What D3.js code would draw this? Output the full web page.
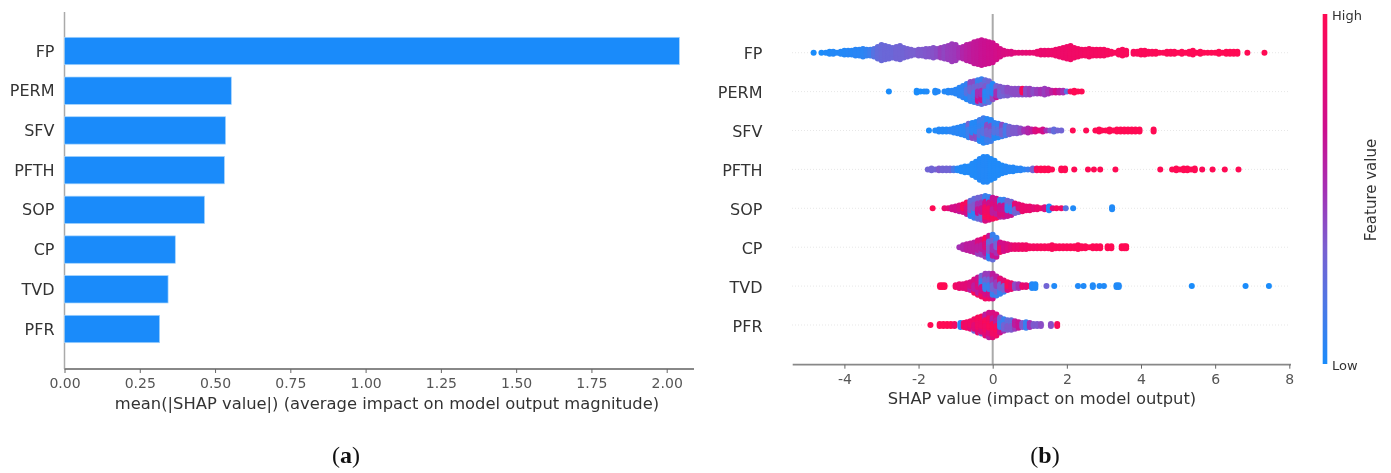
<!DOCTYPE html>
<html>
<head>
<meta charset="utf-8">
<script src="https://cdn.jsdelivr.net/npm/d3@7"></script>
<style>
  html, body { margin: 0; padding: 0; background: #fff; }
  svg { display: block; filter: blur(0.45px); }
  text { font-family: "DejaVu Sans", sans-serif; }
</style>
</head>
<body>
<div id="chart"></div>
<script>
const features = ['FP', 'PERM', 'SFV', 'PFTH', 'SOP', 'CP', 'TVD', 'PFR'];
const meanShap = [2.042, 0.554, 0.535, 0.531, 0.465, 0.368, 0.344, 0.316];
const barTicks = [0, 0.25, 0.5, 0.75, 1, 1.25, 1.5, 1.75, 2];
const swarmTicks = [-4, -2, 0, 2, 4, 6, 8];

// feature-value mixes seen in the crowded parts of the swarms
const mixBlue = [.03, .08, .3, .05, .2, .12, .4];
const mixBluePurple = [.3, .05, .25, .5, .1, .35, .65];
const mixPurpleRed = [.4, .45, .95, .35, .5, .4, .3, .6];
const mixRed = [.75, .3, .9, .6, .1, .95, .45, .7];
const mixHot = [.8, .65, .95, .3, .75, .9, .1, .6];

// swarm columns: [shap value, dots in column, feature value(s)]
const fpBins = [[-4.83,1,0],[-4.62,1,0],[-4.5,1,.02],[-4.4,2,.02],[-4.3,2,.03],[-4.2,1,.03],[-4.1,2,.03],[-4,3,.03],[-3.9,3,.04],[-3.8,3,.04],[-3.7,4,.05],[-3.6,4,.05],[-3.5,5,.06],[-3.4,4,.08],[-3.3,4,.12],[-3.2,5,.2],[-3.1,7,.25],[-3,9,.27],[-2.9,8,.28],[-2.8,7,.28],[-2.7,6,.28],[-2.6,7,.3],[-2.5,8,.3],[-2.4,6,.3],[-2.3,5,.32],[-2.2,4,.33],[-2.1,3,.33],[-2,4,.35],[-1.9,4,.35],[-1.8,5,.36],[-1.7,5,.37],[-1.6,6,.38],[-1.5,5,.4],[-1.4,6,.45],[-1.3,7,.42],[-1.2,8,.45],[-1.1,10,.46],[-1,9,.47],[-.9,6,.5],[-.8,7,.55],[-.7,9,.58],[-.6,10,.6],[-.5,12,.62],[-.4,13,.63],[-.3,14,.65],[-.2,13,.66],[-.1,12,.67],[0,11,.68],[.1,8,.7],[.2,5,.72],[.3,3,.74],[.4,2,.75],[.5,2,.76],[.6,1,.78],[.7,1,.79],[.8,1,.8],[.9,1,.81],[1,1,.82],[1.1,1,.83],[1.2,2,.84],[1.3,3,.85],[1.4,3,.85],[1.5,3,.86],[1.6,3,.86],[1.7,4,.87],[1.8,5,.87],[1.9,6,.88],[2,7,.88],[2.1,8,.89],[2.2,6,.89],[2.3,5,.9],[2.4,4,.9],[2.5,4,.91],[2.6,5,.91],[2.7,4,.92],[2.8,4,.92],[2.9,4,.93],[3,4,.93],[3.1,3,.94],[3.2,2,.94],[3.3,1,.95],[3.4,3,.95],[3.5,4,.95],[3.6,3,.96],[3.8,2,.96],[3.9,2,.96],[4,3,.97],[4.1,3,.97],[4.2,2,.97],[4.3,2,.97],[4.4,2,.98],[4.5,1,.98],[4.6,1,.98],[4.7,2,.98],[4.8,2,.98],[4.9,2,.98],[5,1,.99],[5.1,2,.99],[5.2,1,.99],[5.3,2,.99],[5.4,3,.99],[5.5,1,.99],[5.6,2,.99],[5.7,1,1],[5.8,1,1],[5.9,1,1],[6,1,1],[6.1,2,1],[6.2,1,1],[6.3,2,1],[6.4,2,1],[6.5,2,1],[6.6,2,1],[6.87,1,1],[7.33,1,1]];
const permBins = [[-2.8,1,0],[-2.05,2,0],[-1.95,1,0],[-1.85,1,0],[-1.78,1,.02],[-1.55,2,.02],[-1.48,1,.03],[-1.3,1,.03],[-1.2,2,.03],[-1.1,2,.05],[-1,3,.05],[-.9,5,.05],[-.8,7,.07],[-.7,9,mixBlue],[-.6,11,mixBlue],[-.5,12,mixBlue],[-.4,13,mixBluePurple],[-.3,14,mixBluePurple],[-.2,13,mixBluePurple],[-.1,12,mixBlue],[0,9,mixBlue],[.1,7,mixBluePurple],[.2,6,mixPurpleRed],[.3,5,mixPurpleRed],[.4,5,mixPurpleRed],[.5,4,mixPurpleRed],[.6,4,mixPurpleRed],[.7,4,mixPurpleRed],[.8,4,mixPurpleRed],[.9,4,.4],[1,4,.45],[1.1,3,.4],[1.2,3,.45],[1.3,3,.5],[1.4,4,.45],[1.5,3,.5],[1.6,2,.6],[1.7,2,.7],[1.8,2,.6],[1.9,2,.5],[2,1,.2],[2.1,1,.95],[2.2,2,1],[2.3,1,1],[2.4,1,1]];
const sfvBins = [[-1.72,1,0],[-1.55,1,.02],[-1.45,2,.03],[-1.35,2,.03],[-1.25,2,.03],[-1.15,2,.05],[-1.05,3,.05],[-.95,4,.05],[-.85,5,.05],[-.75,6,.05],[-.65,8,mixBlue],[-.55,9,mixBlue],[-.45,10,mixBlue],[-.35,12,mixBlue],[-.25,14,mixBlue],[-.15,13,mixBlue],[-.05,12,mixBlue],[.05,9,mixBlue],[.15,8,mixBlue],[.25,7,mixBlue],[.35,6,.15],[.45,5,.3],[.55,4,.35],[.65,4,.35],[.75,3,.4],[.85,2,.5],[.95,3,.55],[1.05,2,.6],[1.15,2,.75],[1.25,1,.8],[1.35,2,.7],[1.45,1,.5],[1.55,1,.35],[1.65,2,.25],[1.75,1,.3],[1.85,1,.3],[2.16,1,1],[2.52,1,1],[2.77,1,1],[2.87,2,1],[2.95,1,1],[3.05,1,1],[3.15,2,1],[3.25,1,1],[3.35,2,1],[3.45,2,1],[3.55,2,1],[3.65,2,1],[3.75,2,1],[3.85,2,1],[3.96,2,1],[4.34,2,1]];
const pfthBins = [[-1.75,1,.3],[-1.65,2,.3],[-1.55,1,.3],[-1.45,2,.35],[-1.35,2,.3],[-1.25,2,.3],[-1.15,2,.3],[-1.05,2,.15],[-.95,2,.03],[-.85,3,.02],[-.75,4,.02],[-.65,4,.02],[-.55,7,.02],[-.45,9,.02],[-.35,12,.03],[-.25,14,.03],[-.15,14,.03],[-.05,12,.02],[.05,10,.02],[.15,7,.02],[.25,5,.02],[.35,4,.03],[.45,3,.03],[.55,3,.03],[.65,2,.03],[.75,2,.05],[.85,1,.05],[.95,1,.1],[1.08,2,.3],[1.19,2,.95],[1.3,2,1],[1.4,2,1],[1.5,2,1],[1.6,1,1],[1.85,2,1],[1.95,2,1],[2.2,1,1],[2.57,1,1],[2.73,1,1],[2.9,1,1],[3.31,1,1],[4.52,1,1],[4.84,1,1],[4.95,2,1],[5.05,1,1],[5.15,2,1],[5.25,2,1],[5.35,1,1],[5.45,2,1],[5.65,1,.98],[5.93,1,1],[6.26,1,1],[6.63,1,1]];
const sopBins = [[-1.62,1,1],[-1.3,1,.85],[-1.2,1,.8],[-1.1,2,.7],[-1,3,.7],[-.9,4,mixRed],[-.8,5,mixRed],[-.7,7,mixRed],[-.6,9,mixBluePurple],[-.5,11,mixBluePurple],[-.4,12,mixBluePurple],[-.3,13,mixBluePurple],[-.2,14,mixRed],[-.1,13,mixRed],[0,12,mixHot],[.1,11,mixHot],[.2,10,mixHot],[.3,10,mixHot],[.4,9,mixHot],[.5,8,mixHot],[.6,6,mixHot],[.7,5,mixHot],[.8,4,.85],[.9,3,.85],[1,3,.85],[1.1,2,.8],[1.2,2,.85],[1.3,1,.85],[1.4,2,.75],[1.52,3,.02],[1.62,1,.8],[1.72,1,.95],[1.85,1,.9],[1.97,1,.2],[2.17,1,.02],[3.22,2,.02]];
const cpBins = [[-.9,1,.5],[-.8,3,.55],[-.7,4,.6],[-.6,5,.6],[-.5,6,.6],[-.4,8,mixRed],[-.3,9,mixRed],[-.2,11,mixRed],[-.1,13,mixBluePurple],[0,14,mixBluePurple],[.1,11,mixBluePurple],[.2,6,mixRed],[.3,5,.7],[.4,4,.75],[.5,3,.8],[.6,3,.85],[.7,3,.85],[.8,3,.9],[.9,3,.9],[1,2,.92],[1.1,2,.92],[1.2,2,.93],[1.3,2,.95],[1.4,2,.95],[1.5,2,.96],[1.6,3,.96],[1.7,2,.97],[1.8,2,.97],[1.9,2,.97],[2,2,.98],[2.1,2,.98],[2.2,2,.98],[2.3,3,.98],[2.4,2,.98],[2.5,2,.98],[2.6,1,.99],[2.7,2,.99],[2.8,2,.99],[2.9,2,.99],[3.1,2,1],[3.2,2,1],[3.48,2,1],[3.55,2,1],[3.6,2,1]];
const tvdBins = [[-1.42,2,1],[-1.36,2,1],[-1.3,2,1],[-1,2,.9],[-.9,3,.85],[-.8,3,.8],[-.7,4,.8],[-.6,5,mixHot],[-.5,8,mixHot],[-.4,10,mixHot],[-.3,12,mixRed],[-.2,14,mixRed],[-.1,14,mixRed],[0,14,mixRed],[.1,11,mixRed],[.2,9,mixHot],[.3,7,mixHot],[.4,5,mixRed],[.5,4,.85],[.6,3,.4],[.7,3,.5],[.8,2,.85],[.9,2,.8],[1,1,.9],[1.06,3,.03],[1.15,3,.02],[1.45,1,.3],[1.66,1,.02],[2.3,1,.02],[2.45,1,.02],[2.7,2,.02],[2.88,1,.02],[3,1,.02],[3.34,2,.02],[3.4,2,.02],[5.37,1,0],[6.82,1,0],[7.45,1,0]];
const pfrBins = [[-1.68,1,1],[-1.43,2,1],[-1.33,2,1],[-1.23,2,1],[-1.13,2,1],[-1.03,2,.9],[-.87,3,.05],[-.78,3,.9],[-.7,4,.9],[-.6,5,mixHot],[-.5,7,mixHot],[-.4,9,mixHot],[-.3,10,mixHot],[-.2,12,mixHot],[-.1,14,mixRed],[0,14,mixHot],[.1,12,mixHot],[.2,9,mixRed],[.3,7,mixBluePurple],[.4,6,mixBluePurple],[.5,6,mixBluePurple],[.6,5,mixRed],[.7,4,.65],[.8,3,.35],[.9,4,.1],[1,3,.5],[1.1,2,.35],[1.2,2,.35],[1.3,2,.4],[1.57,2,.4],[1.74,2,.95]];
const swarmBins = [fpBins, permBins, sfvBins, pfthBins, sopBins, cpBins, tvdBins, pfrBins];

const colorStops = ['#1a8cfb', '#4c78e6', '#7a5fd0', '#a52fb4', '#cc0f8f', '#e80a70', '#ff0a54'];

const width = 1391, height = 473;
const textDark = '#333', textMid = '#555', axisGray = '#888';

const svg = d3.select('#chart').append('svg')
  .attr('width', width).attr('height', height);

const valueColor = d3.scaleLinear()
  .domain(colorStops.map((d, i) => i / (colorStops.length - 1)))
  .range(colorStops);

// ---- panel (a) ----
const xBar = d3.scaleLinear().domain([0, 2]).range([64.5, 666.7]);
const yBar = d3.scalePoint().domain(features).range([51, 329]);

svg.append('line')
  .attr('x1', 64.5).attr('x2', 64.5).attr('y1', 12).attr('y2', 369)
  .attr('stroke', '#aaa').attr('stroke-width', 1.5);

svg.append('g').selectAll('rect')
  .data(features)
  .join('rect')
    .attr('x', xBar(0))
    .attr('y', d => yBar(d) - 13.7)
    .attr('width', (d, i) => xBar(meanShap[i]) - xBar(0))
    .attr('height', 27.4)
    .attr('fill', '#1a8bfa')
    .attr('stroke', '#a6d4fd')
    .attr('stroke-width', 0.7);

svg.append('g').selectAll('text')
  .data(features)
  .join('text')
    .attr('x', 54.5)
    .attr('y', d => yBar(d) + 1)
    .attr('text-anchor', 'end')
    .attr('dominant-baseline', 'middle')
    .attr('font-size', 16)
    .attr('fill', textDark)
    .text(d => d);

const barAxis = d3.axisBottom(xBar)
  .tickValues(barTicks)
  .tickFormat(d3.format('.2f'))
  .tickSize(4)
  .tickPadding(5);

function styleAxis(g, right) {
  g.select('.domain').attr('stroke', axisGray).attr('stroke-width', 1.8).attr('d', right);
  g.selectAll('.tick line').attr('stroke', '#666');
  g.selectAll('.tick text').attr('font-size', 14).attr('font-family', '"DejaVu Sans"').attr('fill', textMid);
}

svg.append('g')
  .attr('transform', 'translate(0,369)')
  .call(barAxis)
  .call(styleAxis, 'M64.5,0H694');

svg.append('text')
  .attr('x', 387).attr('y', 404)
  .attr('text-anchor', 'middle').attr('dominant-baseline', 'middle')
  .attr('font-size', 16.35).attr('fill', textDark)
  .text('mean(|SHAP value|) (average impact on model output magnitude)');

// ---- panel (b) ----
const xSwarm = d3.scaleLinear().domain([0, 8]).range([992.7, 1289.3]);
const ySwarm = d3.scalePoint().domain(features).range([52.7, 325]);
const dotStep = 1.9;

svg.append('g').selectAll('line')
  .data(features)
  .join('line')
    .attr('x1', 792).attr('x2', 1289)
    .attr('y1', d => ySwarm(d)).attr('y2', d => ySwarm(d))
    .attr('stroke', '#ddd')
    .attr('stroke-width', 0.7)
    .attr('stroke-dasharray', '1,2');

svg.append('line')
  .attr('x1', xSwarm(0)).attr('x2', xSwarm(0)).attr('y1', 14).attr('y2', 365)
  .attr('stroke', '#aaa').attr('stroke-width', 2);

// stack each column around its row, outermost dots first; mixed columns
// take their colour in small patches so the blobs look mottled, not hatched
const dots = [];
features.forEach((f, r) => {
  swarmBins[r].forEach(([v, n, c]) => {
    const order = d3.range(n).sort((a, b) =>
      Math.abs(b - (n - 1) / 2) - Math.abs(a - (n - 1) / 2));
    order.forEach(k => {
      const patch = Math.floor(k / 3) * 3 + Math.floor((v + 5) * 5) * 5 + r;
      dots.push({
        feature: f,
        shap: v,
        offset: (k - (n - 1) / 2) * dotStep,
        value: Array.isArray(c) ? c[patch % c.length] : c
      });
    });
  });
});

svg.append('g').selectAll('circle')
  .data(dots)
  .join('circle')
    .attr('cx', d => xSwarm(d.shap))
    .attr('cy', d => ySwarm(d.feature) + d.offset)
    .attr('r', 3)
    .attr('fill', d => valueColor(d.value));

svg.append('g').selectAll('text')
  .data(features)
  .join('text')
    .attr('x', 762.5)
    .attr('y', d => ySwarm(d) + 2)
    .attr('text-anchor', 'end')
    .attr('dominant-baseline', 'middle')
    .attr('font-size', 16)
    .attr('fill', textDark)
    .text(d => d);

const swarmAxis = d3.axisBottom(xSwarm)
  .tickValues(swarmTicks)
  .tickFormat(d => String(d))
  .tickSize(4)
  .tickPadding(5);

svg.append('g')
  .attr('transform', 'translate(0,364.7)')
  .call(swarmAxis)
  .call(styleAxis, 'M792.7,0H1291');

svg.append('text')
  .attr('x', 1042).attr('y', 399)
  .attr('text-anchor', 'middle').attr('dominant-baseline', 'middle')
  .attr('font-size', 16.35).attr('fill', textDark)
  .text('SHAP value (impact on model output)');

// colour bar
const grad = svg.append('defs').append('linearGradient')
  .attr('id', 'shapGrad').attr('x1', 0).attr('x2', 0).attr('y1', 1).attr('y2', 0);
grad.selectAll('stop')
  .data(colorStops)
  .join('stop')
    .attr('offset', (d, i) => i / (colorStops.length - 1))
    .attr('stop-color', d => d);

svg.append('rect')
  .attr('x', 1322.7).attr('y', 14).attr('width', 4.6).attr('height', 350)
  .attr('fill', 'url(#shapGrad)');

svg.append('text').attr('x', 1332).attr('y', 16)
  .attr('dominant-baseline', 'middle').attr('font-size', 13).attr('fill', textDark).text('High');
svg.append('text').attr('x', 1332).attr('y', 366)
  .attr('dominant-baseline', 'middle').attr('font-size', 13).attr('fill', textDark).text('Low');
svg.append('text')
  .attr('transform', 'translate(1371,190) rotate(-90)')
  .attr('text-anchor', 'middle').attr('dominant-baseline', 'middle')
  .attr('font-size', 15).attr('fill', textDark)
  .text('Feature value');

// captions
[['a', 346], ['b', 1045]].forEach(([letter, x]) => {
  const cap = svg.append('text')
    .attr('x', x).attr('y', 463)
    .attr('text-anchor', 'middle')
    .attr('font-size', 24)
    .attr('fill', '#111')
    .style('font-family', '"Liberation Serif", serif');
  cap.append('tspan').text('(');
  cap.append('tspan').attr('font-weight', 'bold').text(letter);
  cap.append('tspan').text(')');
});
</script>
</body>
</html>
